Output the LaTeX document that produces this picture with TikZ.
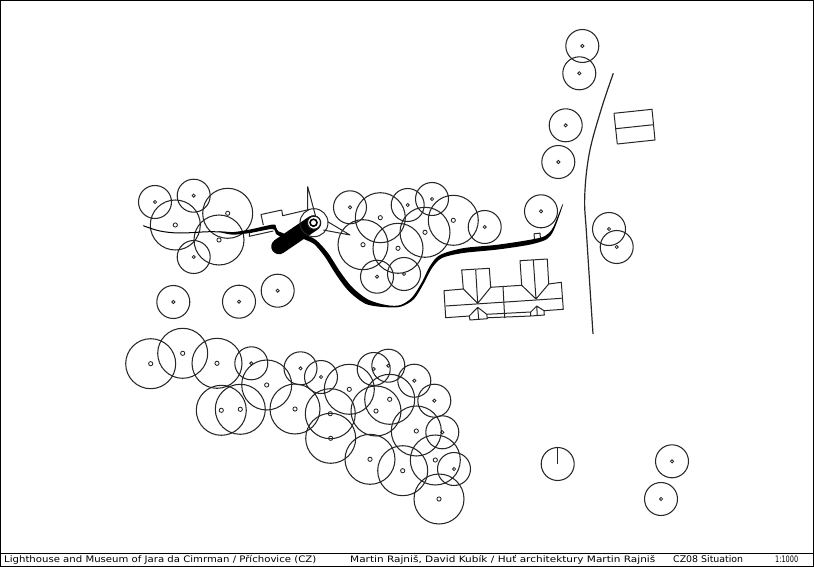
\documentclass[tikz,border=0pt]{standalone}
\usepackage{fontspec}
\setmainfont{DejaVu Sans}
\tikzset{
 linework/.style={line width=1pt,draw=black!85,line join=round},
 treeA/.style={circle,draw=black!85,line width=1.05pt,minimum size=50pt,inner sep=0pt,outer sep=0pt},
 treeB/.style={circle,draw=black!85,line width=1.05pt,minimum size=33pt,inner sep=0pt,outer sep=0pt},
 pith/.style={circle,draw=black!85,line width=0.85pt,minimum size=4.2pt,inner sep=0pt},
 smallpith/.style={circle,draw=black!85,line width=0.85pt,minimum size=3.2pt,inner sep=0pt},
 caption/.style={inner sep=0pt,anchor=base west,font=\fontsize{7.6}{9}\selectfont}
}
\newcommand{\bigtree}[3]{\node[treeA] (t#1) at (#2,#3) {};\node[pith] (p#1) at (#2,#3) {};}
\newcommand{\smalltree}[3]{\node[treeB] (t#1) at (#2,#3) {};\node[smallpith] (p#1) at (#2,#3) {};}
\begin{document}
\begin{tikzpicture}[x=1pt,y=-1pt]
\useasboundingbox (0,0) rectangle (814,567);
\draw[line width=1pt] (0.5,0.5) rectangle (813.5,566);
\draw[line width=1pt] (0.5,553) -- (813.5,553);
% upper-left group
\smalltree{a1}{155}{202}
\smalltree{a2}{193.7}{195.7}
\bigtree{a3}{175.3}{225}
\bigtree{a4}{227.7}{213.3}
\bigtree{a5}{219}{240}
\smalltree{a6}{193.7}{257}
\smalltree{a7}{173.3}{302}
\smalltree{a8}{239}{301.7}
\smalltree{a9}{277.7}{290.7}
% upper-middle group
\smalltree{b1}{350}{207.3}
\bigtree{b2}{380.3}{217.7}
\smalltree{b3}{407.7}{205}
\smalltree{b4}{432}{199}
\bigtree{b5}{453.3}{220.3}
\smalltree{b6}{484.7}{227}
\bigtree{b7}{425}{232.3}
\bigtree{b8}{398}{248.3}
\bigtree{b9}{363}{244.7}
\smalltree{b10}{377}{276.7}
\smalltree{b11}{404}{274}
\smalltree{b12}{541}{211.3}
% right group
\smalltree{c1}{582.3}{46}
\smalltree{c2}{579.3}{73.3}
\smalltree{c3}{565.7}{125.3}
\smalltree{c4}{558.3}{162}
\smalltree{c5}{609}{229}
\smalltree{c6}{616.7}{247}
% lower group
\bigtree{d1}{150.7}{363.7}
\bigtree{d2}{182.7}{353.3}
\bigtree{d3}{217}{363.3}
\smalltree{d4}{251.3}{363.3}
\bigtree{d5}{266.7}{385}
\bigtree{d6}{221.3}{410.3}
\bigtree{d7}{240.3}{409.3}
\bigtree{d8}{295}{409}
\smalltree{d9}{300.5}{368.3}
\smalltree{d10}{321}{377}
\bigtree{d11}{349.3}{389.3}
\bigtree{d12}{330.3}{413.7}
\bigtree{d13}{330.7}{438.3}
\smalltree{d14}{373.7}{369}
\smalltree{d15}{388.3}{365.7}
\smalltree{d16}{414.3}{380.7}
\bigtree{d17}{389.7}{399.3}
\bigtree{d18}{376}{411}
\smalltree{d19}{434.3}{400.7}
\bigtree{d20}{416.3}{431}
\smalltree{d21}{442.3}{432.3}
\bigtree{d22}{370}{459.3}
\bigtree{d23}{402.7}{470.7}
\bigtree{d24}{435.3}{460}
\smalltree{d25}{454}{469}
\bigtree{d26}{439}{499}
% lower-right group
\node[treeB] (e1) at (557.7,464) {};
\draw[linework] (e1.north) -- (e1.center);
\smalltree{e2}{672}{461.3}
\smalltree{e3}{661}{499}
% main road
\draw[linework,line width=1.2pt] plot[smooth,tension=0.6] coordinates {(613.3,73.3) (601,110) (589.3,153.3) (584.7,196.7) (586.7,236.7) (593,334)};
% barn
\draw[linework] (614,113.3) -- (652,109.3) -- (655,140) -- (617.3,144) -- cycle;
\draw[linework] (615.7,128.7) -- (653.7,124.7);
% house
\draw[linework] (444,290.7) -- (463.3,289) -- (461.7,270) -- (489.3,268.3) -- (490.7,287.3) -- (521.7,285.3) -- (520,260.7) -- (547.3,259) -- (548.7,284) -- (561.3,282.3) -- (563.3,309.3) -- (544,310.7) -- (544.3,315) -- (530.7,316) -- (530.7,312) -- (486.7,314.3) -- (487.3,318.7) -- (470,320) -- (469.3,316) -- (445.7,317.7) -- cycle;
\draw[linework] (445.7,306) -- (561.7,298.3);
\draw[linework] (503,286.7) -- (504.7,318);
\draw[linework] (475.7,270) -- (477.7,303.3) (463.3,289) -- (477.7,303.3) -- (490.7,287.3);
\draw[linework] (533.3,260) -- (536,299) (521.7,285.3) -- (536,299) -- (548.7,284);
\draw[linework] (469.3,316) -- (477.7,307.3) -- (486.7,314.3) (477.7,307.3) -- (478.7,319.3);
\draw[linework] (530.7,312) -- (536.7,306) -- (544,310.7) (536.7,306) -- (537.3,315.7);
\draw[linework] (487,317.8) -- (530.7,316);
% small square by the path
\draw[linework] (534,233.8) -- (540,233.2) -- (540.5,239) -- (534.5,239.6) -- cycle;
% museum buildings
\draw[linework] (263.3,225) -- (261,214.5) -- (281.7,210) -- (282.7,215.7) -- (310,209.3);
\draw[linework] (249.3,231.7) -- (263.8,228.8) (249.3,231.7) -- (249.3,236.3) -- (273.3,231);
% path, thin core
\draw[line width=1pt,black] plot[smooth,tension=0.6] coordinates {(143.3,225.7) (160,231) (180,233) (210,231.7) (230,232.5)};
\fill[black] plot[smooth cycle,tension=0.5] coordinates {(218,231.4) (232,232.2) (250,229.5) (273,224.5) (276,227) (278,231) (284,233.8) (282,237) (276,234) (272.4,229) (250,233) (232,234.6)};
% long path, variable width
\fill[black] plot[smooth cycle,tension=0.5] coordinates {(305,235) (316,240) (328,253) (340,271.5) (352,287) (368,299.5) (386,305) (400,305.2) (412,297.5) (422,282) (430,266) (440,255) (463,248.2) (497,244.8) (530,239.8) (545,236) (553,227.5) (561.8,206) (562.5,206.2) (554,229.5) (547,239) (530,244.6) (497,249.6) (463,253) (442,258) (432,268) (424,283) (414,299) (401,306.6) (386,307.2) (366,304) (349,291.5) (336,274.5) (325,257) (314,244) (303,238.5)};
% mast and tip
\draw[linework] (315.7,216.7) -- (307.7,186.7) -- (307.7,210);
\draw[linework] (327.7,221.7) -- (350,235) -- (323.3,230);
% lighthouse
\draw[line width=15.5pt,line cap=round,black] (279,246.5) -- (313.5,223);
\node[circle,draw=black!85,line width=1pt,minimum size=28pt,inner sep=0pt] (lhouter) at (314,222.7) {};
\node[circle,draw=black!90,fill=white,line width=1pt,minimum size=13pt,inner sep=0pt] (lhmid) at (314,222.7) {};
\node[circle,draw=black,line width=1.6pt,minimum size=7pt,inner sep=0pt] (lhinner) at (313.5,222.7) {};
% caption
\node[caption] (txt1) at (4,562) {\resizebox{312pt}{7.2pt}{Lighthouse and Museum of Jara da Cimrman / Příchovice (CZ)}};
\node[caption] (txt2) at (350,562) {\resizebox{305pt}{7.2pt}{Martin Rajniš, David Kubík / Huť architektury Martin Rajniš}};
\node[caption] (txt3) at (673,562) {\resizebox{70pt}{7pt}{CZ08 Situation}};
\node[caption] (txt4) at (775,562) {\resizebox{23pt}{6.6pt}{1:1000}};
\end{tikzpicture}
\end{document}
